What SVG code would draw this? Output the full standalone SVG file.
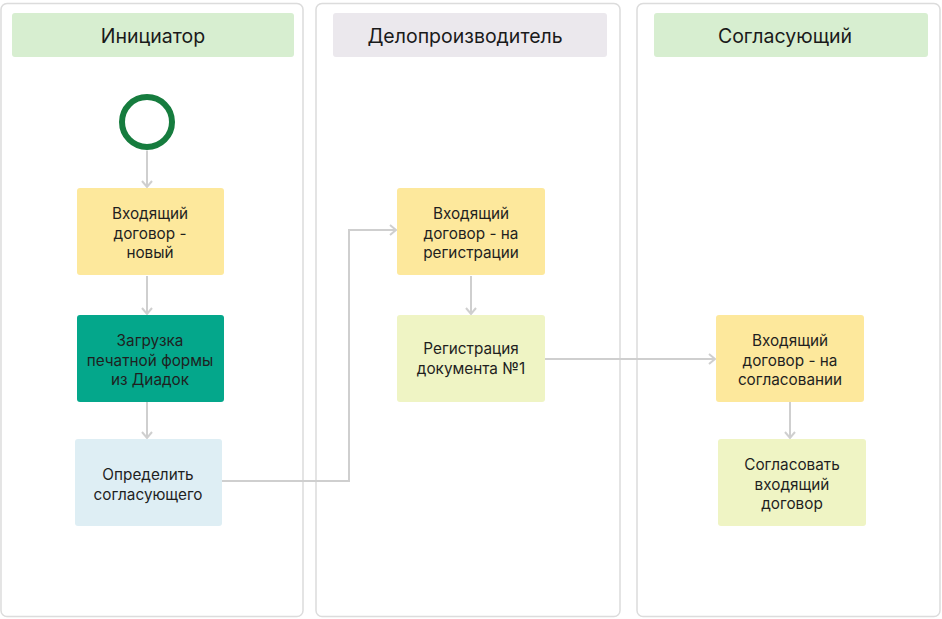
<svg xmlns="http://www.w3.org/2000/svg" width="942" height="619" viewBox="0 0 942 619">
<style>
.lane{fill:#fff;stroke:#dcdcdc;stroke-width:1.5}
.hdr{font-family:Inter,"Liberation Sans",sans-serif;font-size:19.5px;fill:#1a1a1a;text-anchor:middle}
.t{font-family:Inter,"Liberation Sans",sans-serif;font-size:15.3px;fill:#1f1f1f;text-anchor:middle}
.c{fill:none;stroke:#cfcfcf;stroke-width:2;marker-end:url(#ah)}
.y{fill:#fde89c}
.g{fill:#eff4c4}
</style>
<defs>
<marker id="ah" markerWidth="12" markerHeight="12" refX="9" refY="6" orient="auto" markerUnits="userSpaceOnUse">
<path d="M3,1 L9,6 L3,11" fill="none" stroke="#cfcfcf" stroke-width="2"/>
</marker>
</defs>
<rect width="942" height="619" fill="#fff"/>
<g id="lane-initiator">
<rect class="lane" x="1" y="3.5" width="302" height="613" rx="6"/>
<rect x="12" y="13" width="282" height="44" rx="3" fill="#d7eed0"/>
<text class="hdr" x="153" y="43">Инициатор</text>
</g>
<g id="lane-clerk">
<rect class="lane" x="316" y="3.5" width="304" height="613" rx="6"/>
<rect x="333" y="13" width="274" height="44" rx="3" fill="#ebe8ed"/>
<text class="hdr" x="465" y="43">Делопроизводитель</text>
</g>
<g id="lane-approver">
<rect class="lane" x="637" y="3.5" width="303" height="613" rx="6"/>
<rect x="654" y="13" width="274" height="44" rx="3" fill="#d7eed0"/>
<text class="hdr" x="785" y="43">Согласующий</text>
</g>
<g id="connectors">
<path class="c" d="M147,150.5 V187"/>
<path class="c" d="M147,276 V314"/>
<path class="c" d="M147,402 V438"/>
<path class="c" d="M222,481 H349 V230 H396"/>
<path class="c" d="M471,276 V314"/>
<path class="c" d="M545,359 H715"/>
<path class="c" d="M790,402 V438"/>
</g>
<g id="start">
<circle cx="147" cy="122" r="25" fill="#fff" stroke="#167c3e" stroke-width="6"/>
</g>
<g id="n1">
<rect class="y" x="77" y="188" width="147" height="87" rx="3"/>
<text class="t" x="150" y="219">Входящий</text>
<text class="t" x="150" y="239">договор -</text>
<text class="t" x="150" y="258">новый</text>
</g>
<g id="n2">
<rect x="77" y="315" width="147" height="87" rx="3" fill="#04a78b"/>
<text class="t" x="150" y="346">Загрузка</text>
<text class="t" x="150" y="366">печатной формы</text>
<text class="t" x="150" y="385">из Диадок</text>
</g>
<g id="n3">
<rect x="75" y="439" width="147" height="87" rx="3" fill="#deeef4"/>
<text class="t" x="148" y="480">Определить</text>
<text class="t" x="148" y="500">согласующего</text>
</g>
<g id="n4">
<rect class="y" x="397" y="188" width="148" height="87" rx="3"/>
<text class="t" x="471" y="219">Входящий</text>
<text class="t" x="471" y="239">договор - на</text>
<text class="t" x="471" y="258">регистрации</text>
</g>
<g id="n5">
<rect class="g" x="397" y="315" width="148" height="87" rx="3"/>
<text class="t" x="471" y="354">Регистрация</text>
<text class="t" x="471" y="374">документа №1</text>
</g>
<g id="n6">
<rect class="y" x="716" y="315" width="148" height="87" rx="3"/>
<text class="t" x="790" y="346">Входящий</text>
<text class="t" x="790" y="366">договор - на</text>
<text class="t" x="790" y="385">согласовании</text>
</g>
<g id="n7">
<rect class="g" x="718" y="439" width="148" height="87" rx="3"/>
<text class="t" x="792" y="470">Согласовать</text>
<text class="t" x="792" y="490">входящий</text>
<text class="t" x="792" y="509">договор</text>
</g>
</svg>
